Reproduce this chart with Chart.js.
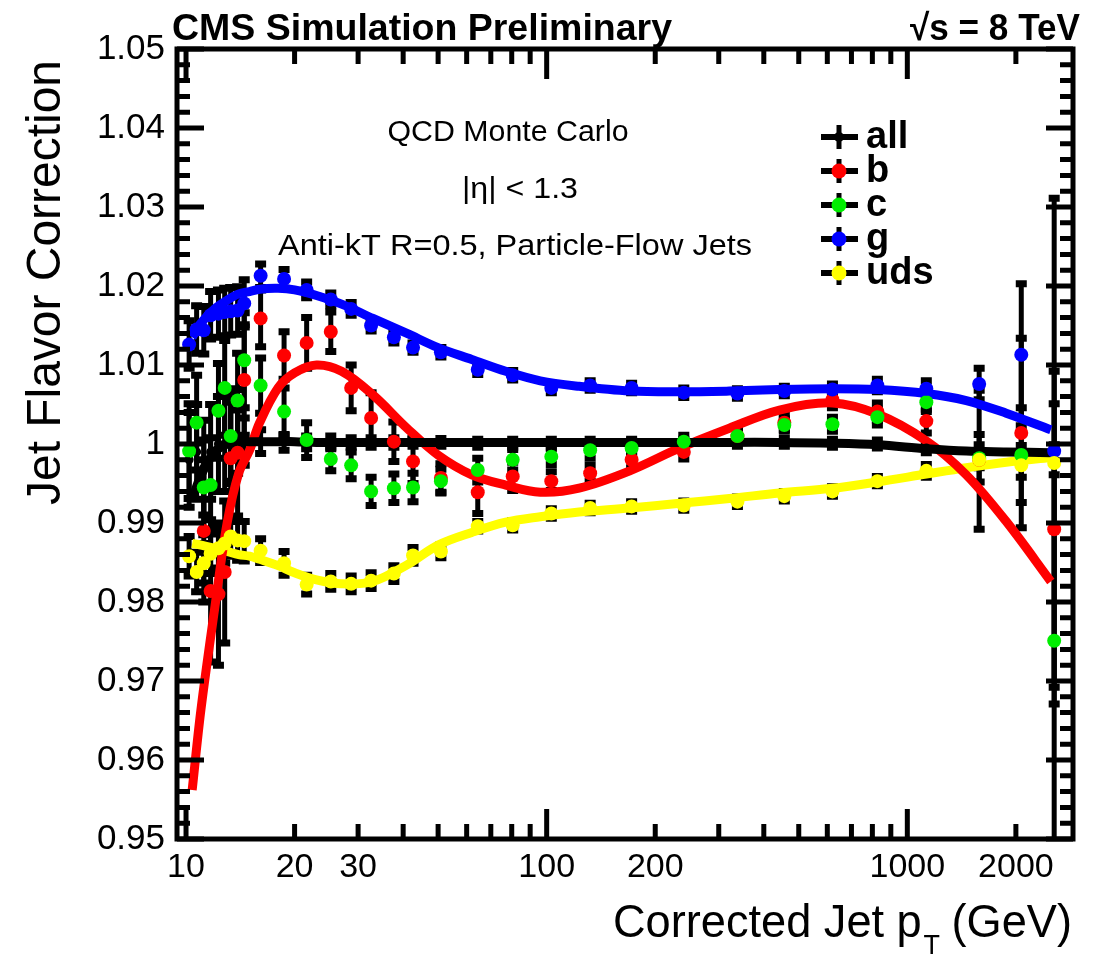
<!DOCTYPE html>
<html>
<head>
<meta charset="utf-8">
<script src="https://cdn.jsdelivr.net/npm/chart.js@4.4.0/dist/chart.umd.min.js"></script>
<style>
    html, body { margin: 0; padding: 0; background: #ffffff; }
    #grafico { display: block; }
</style>
</head>
<body>
<canvas id="grafico" width="1093" height="956"></canvas>
<script>
// bins de pT (GeV) e correcoes
const ptBins = [10.2, 10.7, 11.2, 11.7, 12.3, 12.8, 13.3, 13.9, 14.5, 16.1, 18.7, 21.6, 25.2, 28.7, 32.6, 37.7,
    42.6, 50.9, 64.4, 80.5, 103, 132, 172, 240, 338, 456, 620, 826, 1129, 1582, 2070, 2554];

const corrAll = [0.9980, 0.9990, 0.9970, 0.9990, 1.0000, 1.0000, 1.0003, 1.0003, 1.0003, 1.0003, 1.0002, 1.0002,
    1.0002, 1.0002, 1.0002, 1.0002, 1.0002, 1.0002, 1.0001, 1.0001, 1.0001, 1.0001, 1.0001, 1.0001, 1.0002, 1.0002,
    1.0001, 1.0000, 0.9995, 0.9991, 0.9990, 0.9989];
const erroAll = [0.006, 0.006, 0.006, 0.006, 0.006, 0.006, 0.005, 0.004, 0.003, 0.0015, 0.001, 0.0008, 0.0008, 0.0006,
    0.0006, 0.0006, 0.0005, 0.0005, 0.0005, 0.0005, 0.0005, 0.0005, 0.0005, 0.0005, 0.0005, 0.0005, 0.0005, 0.0005,
    0.0006, 0.0008, 0.0008, 0.001];

const corrB = [null, null, 0.9890, 0.9814, 0.9810, 0.9838, 0.9982, 0.9989, 1.0081, 1.0159, 1.0112, 1.0128, 1.0142,
    1.0071, 1.0033, 1.0003, 0.9978, 0.9957, 0.9939, 0.9959, 0.9953, 0.9963, 0.9980, 0.9990, 1.0010, 1.0027, 1.0056,
    1.0041, 1.0029, 0.9980, 1.0014, 0.9892];
const erroB = [0.009, 0.009, 0.009, 0.009, 0.009, 0.009, 0.008, 0.008, 0.007, 0.0036, 0.003, 0.0032, 0.0025, 0.0029,
    0.0032, 0.0025, 0.0028, 0.0018, 0.0027, 0.0018, 0.0012, 0.001, 0.001, 0.0009, 0.0009, 0.0009, 0.001, 0.0011,
    0.0015, 0.0088, 0.012, 0.02];

const corrC = [0.9991, 1.0027, 0.9945, 0.9948, 1.0042, 1.0071, 1.0010, 1.0055, 1.0106, 1.0074, 1.0041, 1.0005,
    0.9981, 0.9973, 0.9940, 0.9944, 0.9945, 0.9953, 0.9967, 0.9980, 0.9984, 0.9992, 0.9995, 1.0003, 1.0010, 1.0024,
    1.0025, 1.0034, 1.0053, 0.9982, 0.9986, 0.9751];
const erroC = [0.006, 0.006, 0.006, 0.006, 0.006, 0.006, 0.006, 0.006, 0.006, 0.0035, 0.003, 0.0022, 0.0015, 0.0017,
    0.0018, 0.0018, 0.0018, 0.0015, 0.0015, 0.0013, 0.001, 0.001, 0.0009, 0.0008, 0.0008, 0.0008, 0.0009, 0.001,
    0.0012, 0.003, 0.006, 0.03];

const corrG = [1.0126, 1.0145, 1.0144, 1.0163, 1.0165, 1.0167, 1.0168, 1.0169, 1.0178, 1.0213, 1.0209, 1.0195,
    1.0183, 1.0171, 1.0150, 1.0135, 1.0122, 1.0116, 1.0094, 1.0087, 1.0071, 1.0074, 1.0071, 1.0065, 1.0064, 1.0067,
    1.0069, 1.0074, 1.0070, 1.0076, 1.0113, 0.9991];
const erroG = [0.003, 0.003, 0.003, 0.003, 0.003, 0.003, 0.003, 0.003, 0.003, 0.0015, 0.0012, 0.001, 0.0008, 0.0008,
    0.0007, 0.0007, 0.0006, 0.0006, 0.0006, 0.0006, 0.0006, 0.0006, 0.0006, 0.0006, 0.0006, 0.0006, 0.0007, 0.0008,
    0.001, 0.002, 0.009, 0.032];

const corrUds = [0.9858, 0.9838, 0.9849, 0.9861, 0.9868, 0.9874, 0.9883, 0.9878, 0.9877, 0.9865, 0.9849, 0.9822,
    0.9826, 0.9823, 0.9827, 0.9836, 0.9859, 0.9864, 0.9896, 0.9897, 0.9912, 0.9919, 0.9921, 0.9922, 0.9927, 0.9934,
    0.9940, 0.9953, 0.9966, 0.9980, 0.9973, 0.9976];
const erroUds = [0.0025, 0.0025, 0.0025, 0.0025, 0.0025, 0.0025, 0.0025, 0.0025, 0.0025, 0.0015, 0.0015, 0.0012,
    0.001, 0.001, 0.001, 0.001, 0.001, 0.0008, 0.0006, 0.0006, 0.0006, 0.0006, 0.0006, 0.0006, 0.0006, 0.0006, 0.0006,
    0.0006, 0.0008, 0.001, 0.0015, 0.0015];

// curvas de ajuste
const ptAjuste = [10.4, 11, 12, 13, 14, 15, 16, 18, 20, 23, 27, 33, 41, 50, 62, 77, 96, 123, 170, 234, 321, 442,
    620, 826, 1129, 1457, 1880, 2500];
const ajusteAll = [0.9930, 0.9960, 0.9990, 1.0000, 1.0003, 1.0003, 1.0003, 1.0003, 1.0003, 1.0002, 1.0002, 1.0002,
    1.0002, 1.0002, 1.0002, 1.0002, 1.0002, 1.0002, 1.0002, 1.0002, 1.0002, 1.0002, 1.0001, 0.9999, 0.9994, 0.9991,
    0.9990, 0.9989];
const ajusteB = [0.9562, 0.9664, 0.9791, 0.9900, 0.9963, 0.9992, 1.0027, 1.0071, 1.0090, 1.0100, 1.0092, 1.0062,
    1.0020, 0.9986, 0.9961, 0.9948, 0.9939, 0.9944, 0.9966, 0.9995, 1.0020, 1.0043, 1.0052, 1.0038, 1.0004, 0.9961,
    0.9902, 0.9826];
const ajusteG = [1.0135, 1.0153, 1.0171, 1.0182, 1.0190, 1.0193, 1.0196, 1.0197, 1.0195, 1.0188, 1.0177, 1.0159,
    1.0140, 1.0122, 1.0107, 1.0092, 1.0080, 1.0073, 1.0067, 1.0066, 1.0067, 1.0069, 1.0070, 1.0069, 1.0064, 1.0055,
    1.0039, 1.0018];
const ajusteUds = [0.9874, 0.9872, 0.9868, 0.9864, 0.9860, 0.9858, 0.9854, 0.9846, 0.9837, 0.9828, 0.9823, 0.9826,
    0.9847, 0.9872, 0.9888, 0.9901, 0.9908, 0.9914, 0.9919, 0.9925, 0.9931, 0.9938, 0.9944, 0.9952, 0.9962, 0.9970,
    0.9977, 0.9983];

const ticksX = [10, 20, 30, 40, 50, 60, 70, 80, 90, 100, 200, 300, 400, 500, 600, 700, 800, 900, 1000, 2000];
const rotulosX = [10, 20, 30, 100, 200, 1000, 2000];

const sabores = ["all", "b", "c", "g", "uds"];
const cores = ["#000000", "#ff0000", "#00ee00", "#0000ff", "#ffff00"];

const fonte = '"Liberation Sans", Arial, sans-serif';

function pontos(valores, erros) {
    const lista = [];
    ptBins.forEach(function (pt, i) {
        if (valores[i] !== null) {
            lista.push({ x: pt, y: valores[i], e: erros[i] });
        }
    });
    return lista;
}

function curva(valores) {
    return ptAjuste.map(function (pt, i) {
        return { x: pt, y: valores[i] };
    });
}

function serieAjuste(valores, cor) {
    return {
        type: "line",
        data: curva(valores),
        borderColor: cor,
        borderWidth: 9,
        pointRadius: 0,
        tension: 0.35,
        fill: false,
        order: 10
    };
}

function seriePontos(valores, erros, cor, ordem, raio) {
    return {
        type: "scatter",
        data: pontos(valores, erros),
        comErro: true,
        backgroundColor: cor,
        borderWidth: 0,
        pointRadius: raio,
        order: ordem
    };
}

// barras de erro pretas com tampas
const barrasErro = {
    id: "barrasErro",
    beforeDatasetsDraw(chart) {
        const ctx = chart.ctx;
        const eixoY = chart.scales.y;
        const area = chart.chartArea;
        ctx.save();
        ctx.beginPath();
        ctx.rect(area.left, area.top, area.right - area.left, area.bottom - area.top);
        ctx.clip();
        ctx.strokeStyle = "#000";
        chart.data.datasets.forEach(function (ds, i) {
            if (!ds.comErro) {
                return;
            }
            const meta = chart.getDatasetMeta(i);
            meta.data.forEach(function (ponto, j) {
                const raw = ds.data[j];
                const y1 = eixoY.getPixelForValue(raw.y + raw.e);
                const y2 = eixoY.getPixelForValue(raw.y - raw.e);
                ctx.lineWidth = 5;
                ctx.beginPath();
                ctx.moveTo(ponto.x, y1);
                ctx.lineTo(ponto.x, y2);
                ctx.stroke();
                ctx.lineWidth = 7;
                ctx.beginPath();
                ctx.moveTo(ponto.x - 5.5, y1);
                ctx.lineTo(ponto.x + 5.5, y1);
                ctx.moveTo(ponto.x - 5.5, y2);
                ctx.lineTo(ponto.x + 5.5, y2);
                ctx.stroke();
            });
        });
        ctx.restore();
    }
};

function textoAjustado(ctx, texto, x, y, largura, font, alinhamento) {
    ctx.font = font;
    const w = ctx.measureText(texto).width;
    ctx.save();
    ctx.translate(x, y);
    ctx.scale(largura / w, 1);
    ctx.textAlign = alinhamento;
    ctx.textBaseline = "alphabetic";
    ctx.fillText(texto, 0, 0);
    ctx.restore();
}

// moldura, ticks para dentro, textos e legenda
const moldura = {
    id: "moldura",
    afterDraw(chart) {
        const ctx = chart.ctx;
        const a = chart.chartArea;
        const ex = chart.scales.x;
        const ey = chart.scales.y;
        ctx.save();
        ctx.strokeStyle = "#000";
        ctx.fillStyle = "#000";

        ctx.lineWidth = 5;
        ctx.strokeRect(a.left, a.top, a.right - a.left, a.bottom - a.top);

        ctx.lineWidth = 5;
        ticksX.forEach(function (v) {
            const px = ex.getPixelForValue(v);
            const maior = (v === 10 || v === 100 || v === 1000);
            const len = maior ? 30 : 15;
            ctx.beginPath();
            ctx.moveTo(px, a.bottom);
            ctx.lineTo(px, a.bottom - len);
            ctx.moveTo(px, a.top);
            ctx.lineTo(px, a.top + len);
            ctx.stroke();
        });
        for (let k = 0; k <= 50; k++) {
            const py = ey.getPixelForValue(0.95 + k * 0.002);
            const len = (k % 5 === 0) ? 27 : 13;
            ctx.beginPath();
            ctx.moveTo(a.left, py);
            ctx.lineTo(a.left + len, py);
            ctx.moveTo(a.right, py);
            ctx.lineTo(a.right - len, py);
            ctx.stroke();
        }

        // titulo dos eixos
        ctx.save();
        ctx.translate(60, 505);
        ctx.rotate(-Math.PI / 2);
        textoAjustado(ctx, "Jet Flavor Correction", 0, 0, 445, "48px " + fonte, "left");
        ctx.restore();

        ctx.font = "47px " + fonte;
        const w1 = ctx.measureText("Corrected Jet p").width;
        const w3 = ctx.measureText("(GeV)").width;
        ctx.font = "28px " + fonte;
        const w2 = ctx.measureText("T").width;
        const escala = 459 / (w1 + w2 + 14 + w3);
        ctx.save();
        ctx.translate(613, 937);
        ctx.scale(escala, 1);
        ctx.textAlign = "left";
        ctx.font = "47px " + fonte;
        ctx.fillText("Corrected Jet p", 0, 0);
        ctx.font = "28px " + fonte;
        ctx.fillText("T", w1 + 2, 17);
        ctx.font = "47px " + fonte;
        ctx.fillText("(GeV)", w1 + w2 + 14, 0);
        ctx.restore();

        textoAjustado(ctx, "CMS Simulation Preliminary", 172, 40, 500, "bold 37px " + fonte, "left");
        textoAjustado(ctx, "\u221As = 8 TeV", 910, 40, 170, "bold 37px " + fonte, "left");

        textoAjustado(ctx, "QCD Monte Carlo", 508, 141, 241, "30px " + fonte, "center");
        textoAjustado(ctx, "|\u03B7| < 1.3", 520, 198, 116, "30px " + fonte, "center");
        textoAjustado(ctx, "Anti-kT R=0.5, Particle-Flow Jets", 515, 255, 474, "30px " + fonte, "center");

        // legenda
        const linhasY = [137, 171, 205, 239, 273];
        sabores.forEach(function (nome, i) {
            const y = linhasY[i];
            ctx.lineWidth = 6;
            ctx.beginPath();
            ctx.moveTo(821, y);
            ctx.lineTo(858, y);
            ctx.stroke();
            ctx.lineWidth = 5;
            ctx.beginPath();
            ctx.moveTo(839, y - 12);
            ctx.lineTo(839, y + 12);
            ctx.stroke();
            ctx.fillStyle = cores[i];
            ctx.beginPath();
            ctx.arc(839, y, i === 0 ? 5 : 7.5, 0, Math.PI * 2);
            ctx.fill();
            ctx.fillStyle = "#000";
            ctx.font = "bold 38px " + fonte;
            ctx.textAlign = "left";
            ctx.textBaseline = "middle";
            ctx.fillText(nome, 866, y + 1);
        });
        ctx.restore();
    }
};

new Chart(document.getElementById("grafico"), {
    data: {
        datasets: [
            seriePontos(corrAll, erroAll, cores[0], 5, 4.5),
            seriePontos(corrB, erroB, cores[1], 4, 7),
            seriePontos(corrC, erroC, cores[2], 3, 7),
            seriePontos(corrG, erroG, cores[3], 2, 7),
            seriePontos(corrUds, erroUds, cores[4], 1, 7),
            serieAjuste(ajusteAll, cores[0]),
            serieAjuste(ajusteB, cores[1]),
            serieAjuste(ajusteG, cores[3]),
            serieAjuste(ajusteUds, cores[4])
        ]
    },
    options: {
        responsive: false,
        animation: false,
        devicePixelRatio: 1,
        events: [],
        layout: {
            padding: { top: 49, right: 20, left: 0, bottom: 0 }
        },
        plugins: {
            legend: { display: false },
            tooltip: { enabled: false }
        },
        scales: {
            x: {
                type: "logarithmic",
                min: 9.44,
                max: 2880,
                grid: { display: false, drawTicks: false },
                border: { display: false },
                afterBuildTicks: function (scale) {
                    scale.ticks = ticksX.map(function (v) { return { value: v }; });
                },
                afterFit: function (scale) {
                    scale.height = 117;
                },
                ticks: {
                    autoSkip: false,
                    maxRotation: 0,
                    padding: 8,
                    color: "#000",
                    font: { family: fonte, size: 34 },
                    callback: function (value) {
                        return rotulosX.includes(value) ? String(value) : "";
                    }
                }
            },
            y: {
                min: 0.95,
                max: 1.05,
                grid: { display: false, drawTicks: false },
                border: { display: false },
                afterFit: function (scale) {
                    scale.width = 177;
                },
                ticks: {
                    stepSize: 0.01,
                    padding: 12,
                    color: "#000",
                    font: { family: fonte, size: 35 },
                    callback: function (value) {
                        return String(Math.round(value * 100) / 100);
                    }
                }
            }
        }
    },
    plugins: [barrasErro, moldura]
});
</script>
</body>
</html>
